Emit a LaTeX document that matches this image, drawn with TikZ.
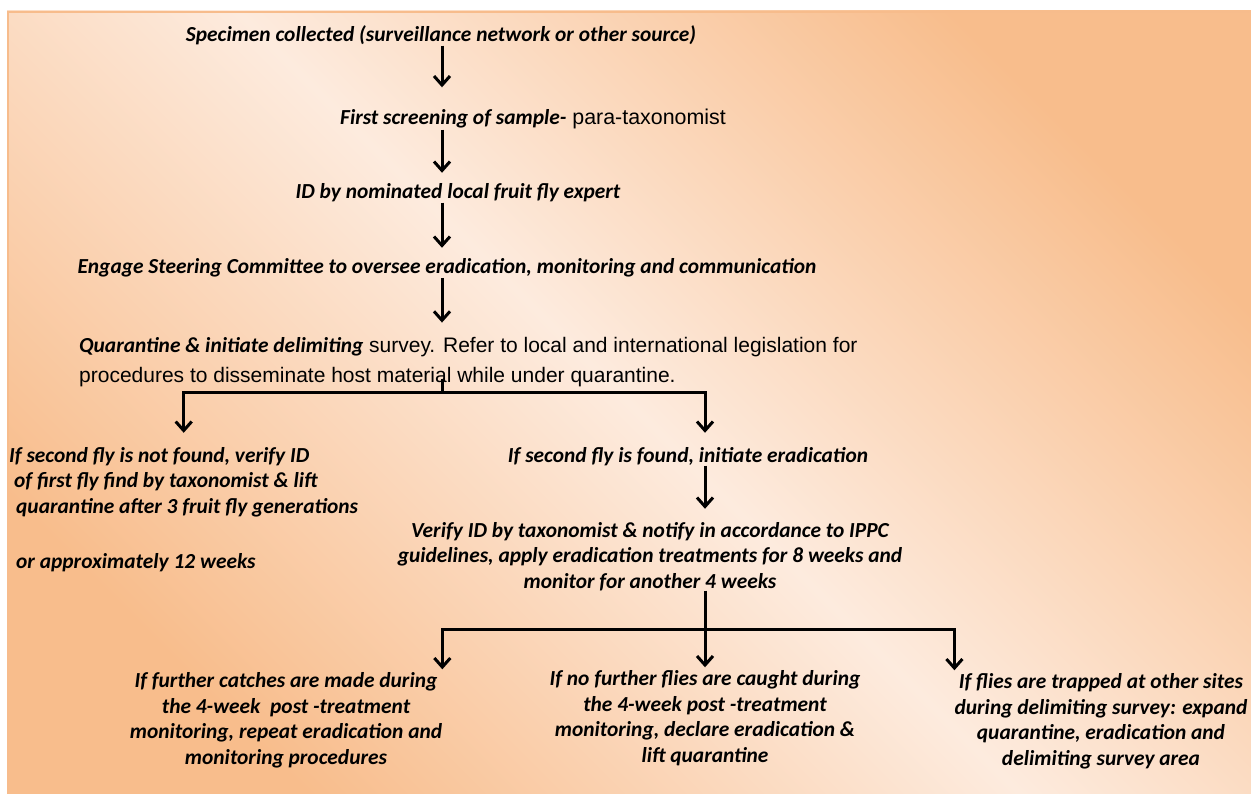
\documentclass[tikz,border=0pt]{standalone}
\usepackage{fontspec}
\setmainfont{Carlito}
\newfontfamily\plainsans{Liberation Sans}
\usetikzlibrary{arrows.meta}

\definecolor{bgdark}{RGB}{248,189,140}
\definecolor{bglight}{RGB}{253,235,222}
\definecolor{bgedge}{RGB}{247,188,140}
\newcommand{\flowfont}{\fontsize{21.4}{25.5}\selectfont\bfseries\itshape}

\begin{document}
\begin{tikzpicture}[x=1pt,y=-1pt,
  flowtext/.style={font=\flowfont, inner sep=0pt, anchor=base, align=center},
  flowarrow/.style={line width=3pt, -{Straight Barb[length=9pt,width=16pt]}},
  flowline/.style={line width=3pt}]
\useasboundingbox (0,0) rectangle (1251,794);
% background
\shade[top color=bgdark, bottom color=bgdark, middle color=bglight, shading angle=-45] (7,11) rectangle (1251,794);
\draw[bgedge, line width=2.5pt] (8.2,794) -- (8.2,12.2) -- (1251,12.2);

% main chain
\node[flowtext] (spec) at (441,42) {Specimen collected (surveillance network or other source)};
\node[flowtext] (screen) at (533,125) {First screening of sample-{\normalfont\plainsans{} para-taxonomist}};
\node[flowtext] (idexp) at (458,199) {ID by nominated local fruit fly expert};
\node[flowtext] (engage) at (447,274) {Engage Steering Committee to oversee eradication, monitoring and communication};
\node[flowtext, anchor=base west, align=left, font=\fontsize{21}{30}\selectfont\plainsans] (quar) at (79,382)
  {{\normalfont\flowfont Quarantine \& initiate delimiting} survey. Refer to local and international legislation for\\
   procedures to disseminate host material while under quarantine.};

\coordinate (spine) at (442,0);
\foreach \a/\b/\s in {spec/screen/22, screen/idexp/11, idexp/engage/11, engage/quar/14}
  \draw[flowarrow, shorten >=\s pt] (\a.south -| spine) -- (\b.north -| spine);

% first split
\coordinate (fork1) at (442,393);
\coordinate (fork2) at (705,629);
\node[flowtext, anchor=base west, align=left] (notfound) at (9,568)
  {If second fly is not found, verify ID\\
   \hspace*{5pt}of first fly find by taxonomist \& lift\\
   \hspace*{7pt}quarantine after 3 fruit fly generations\\[29.5pt]
   \hspace*{7pt}or approximately 12 weeks};
\node[flowtext] (found) at (688,462) {If second fly is found, initiate eradication};
\node[flowtext] (verify) at (650,588) {Verify ID by taxonomist \& notify in accordance to IPPC\\
  guidelines, apply eradication treatments for 8 weeks and\\monitor for another 4 weeks};

\draw[flowline, shorten <=-8pt] (quar.south -| spine) -- (fork1);
\draw[flowarrow, shorten >=14pt] (fork1) -| (notfound.north);
\draw[flowarrow, shorten >=14pt] (fork1) -| (found.north -| fork2);
\draw[flowarrow, shorten >=13pt] (found.south -| fork2) -- (verify.north -| fork2);

% second split
\node[flowtext] (repeat) at (286,764) {If further catches are made during\\the 4-week\ \ post -treatment\\
  monitoring, repeat eradication and\\monitoring procedures};
\node[flowtext] (declare) at (705,762) {If no further flies are caught during\\the 4-week post -treatment\\
  monitoring, declare eradication \&\\lift quarantine};
\node[flowtext] (expand) at (1101,765) {If flies are trapped at other sites\\during delimiting survey: expand\\
  quarantine, eradication and\\delimiting survey area};

\draw[flowline] (verify.south -| fork2) -- (fork2);
\foreach \n/\p in {repeat/north east, declare/north, expand/north west}
  \draw[flowarrow, shorten >=3pt] (fork2) -| (\n.\p);
\end{tikzpicture}
\end{document}
